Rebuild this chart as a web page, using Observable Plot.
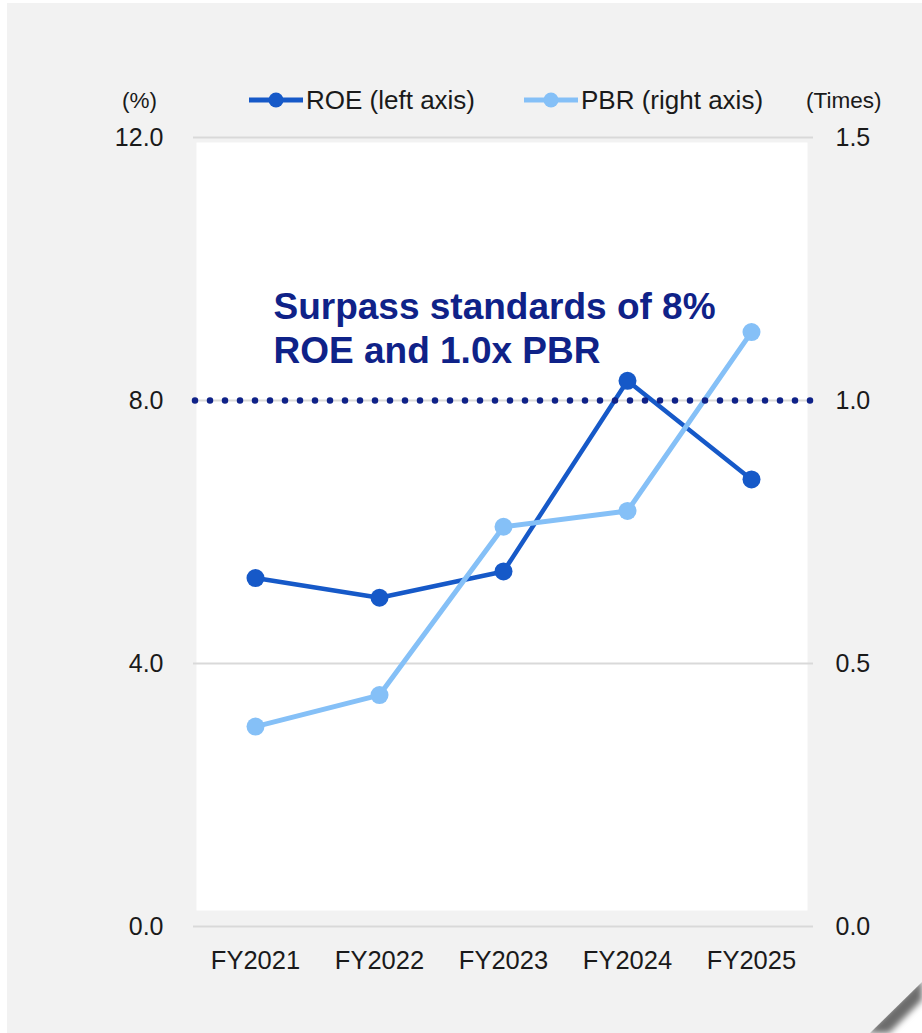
<!DOCTYPE html>
<html>
<head>
<meta charset="utf-8">
<script src="https://cdn.jsdelivr.net/npm/d3@7"></script>
<script src="https://cdn.jsdelivr.net/npm/@observablehq/plot@0.6"></script>
<style>
  html, body { margin: 0; padding: 0; background: #ffffff; }
  #wrap { position: relative; width: 922px; height: 1033px; overflow: hidden; font-family: "Liberation Sans", Arial, sans-serif; color: #1a1a1a; }
  #shadowWrap { position: absolute; left: 0; top: 0; width: 922px; height: 1033px; filter: blur(3px); }
  #shadow { position: absolute; left: 0; top: 0; width: 922px; height: 1033px; background: #6b6b6b;
    clip-path: polygon(922px 978px, 922px 1000px, 889px 1033px, 866px 1033px); }
  #panel { position: absolute; left: 7px; top: 3px; width: 915px; height: 1030px; background: #f2f2f2;
    clip-path: polygon(0 0, 915px 0, 915px 979px, 863px 1030px, 0 1030px); }
  #chart { position: absolute; left: 0; top: 0; }
  .lg { position: absolute; top: 84px; height: 32px; display: flex; align-items: center; font-size: 26px; white-space: nowrap; }
  .lg svg { margin-right: 3px; }
  .unit { position: absolute; top: 88px; font-size: 22.5px; }
</style>
</head>
<body>
<div id="wrap">
  <div id="shadowWrap"><div id="shadow"></div></div>
  <div id="panel"></div>
  <div id="chart"></div>
  <div id="legend"></div>
</div>
<script>
// ---- data ----
const years = ["FY2021", "FY2022", "FY2023", "FY2024", "FY2025"];
const roe = [5.3, 5.0, 5.4, 8.3, 6.8];          // %, left axis
const pbr = [0.38, 0.44, 0.76, 0.79, 1.13];     // times, right axis
const leftTicks = [0, 4, 8, 12];
const rightTickLabels = ["0.0", "0.5", "1.0", "1.5"];
const standardROE = [8];
const annotation = [{x: "FY2021", y: 9.15, text: "Surpass standards of 8%\nROE and 1.0x PBR"}];
const seriesNames = ["ROE (left axis)", "PBR (right axis)"];
const colors = {roe: "#1659c8", pbr: "#85c0f7", navy: "#0f2288"};
const ratio = 12 / 1.5; // left/right axis scaling

const roeData = years.map((x, i) => ({x, v: roe[i]}));
const pbrData = years.map((x, i) => ({x, v: pbr[i] * ratio}));

const chart = Plot.plot({
  width: 922,
  height: 1033,
  marginTop: 137,
  marginBottom: 107,
  marginLeft: 193,
  marginRight: 109,
  x: {domain: years, type: "point", padding: 0.5},
  y: {domain: [0, 12]},
  style: {background: "transparent", fontFamily: "'Liberation Sans', Arial, sans-serif", fontSize: "25px", color: "#1a1a1a", overflow: "visible"},
  marks: [
    Plot.frame({fill: "white", stroke: null, insetLeft: 3, insetRight: 6, insetTop: 5, insetBottom: 16}),
    Plot.ruleY(leftTicks, {stroke: "#d9d9d9", strokeWidth: 2}),
    Plot.axisY({ticks: leftTicks, tickSize: 0, tickPadding: 30, tickFormat: d => d.toFixed(1), label: null, fontSize: 25}),
    Plot.axisY({anchor: "right", ticks: leftTicks, tickSize: 0, tickPadding: 22,
      tickFormat: d => rightTickLabels[leftTicks.indexOf(d)], label: null, fontSize: 25}),
    Plot.axisX({tickSize: 0, tickPadding: 24, label: null, fontSize: 25.5}),
    Plot.line(roeData, {x: "x", y: "v", stroke: colors.roe, strokeWidth: 4.5}),
    Plot.dot(roeData, {x: "x", y: "v", r: 9, fill: colors.roe, stroke: null}),
    Plot.line(pbrData, {x: "x", y: "v", stroke: colors.pbr, strokeWidth: 5}),
    Plot.dot(pbrData, {x: "x", y: "v", r: 9, fill: colors.pbr, stroke: null}),
    Plot.ruleY(standardROE, {stroke: colors.navy, strokeWidth: 6.5, strokeDasharray: "0,15", strokeLinecap: "round", insetLeft: 2}),
    Plot.text(annotation, {x: "x", y: "y", text: "text", textAnchor: "start", dx: 18, dy: 2, lineAnchor: "middle",
      lineHeight: 1.19, fontSize: 37, fontWeight: "bold", fill: colors.navy})
  ]
});
document.getElementById("chart").appendChild(chart);

// ---- legend & unit labels (HTML, above the plot area) ----
const legend = document.getElementById("legend");
function swatch(color) {
  return `<svg width="54" height="20" viewBox="0 0 54 20"><line x1="0" y1="10" x2="54" y2="10" stroke="${color}" stroke-width="5"/><circle cx="27" cy="10" r="7.5" fill="${color}"/></svg>`;
}
const items = [
  {name: seriesNames[0], color: colors.roe, left: 249},
  {name: seriesNames[1], color: colors.pbr, left: 524}
];
legend.innerHTML = items.map(d =>
  `<div class="lg" style="left:${d.left}px">${swatch(d.color)}<span>${d.name}</span></div>`
).join("") +
  `<div class="unit" style="left:122px">(%)</div>` +
  `<div class="unit" style="left:806px">(Times)</div>`;
</script>
</body>
</html>
